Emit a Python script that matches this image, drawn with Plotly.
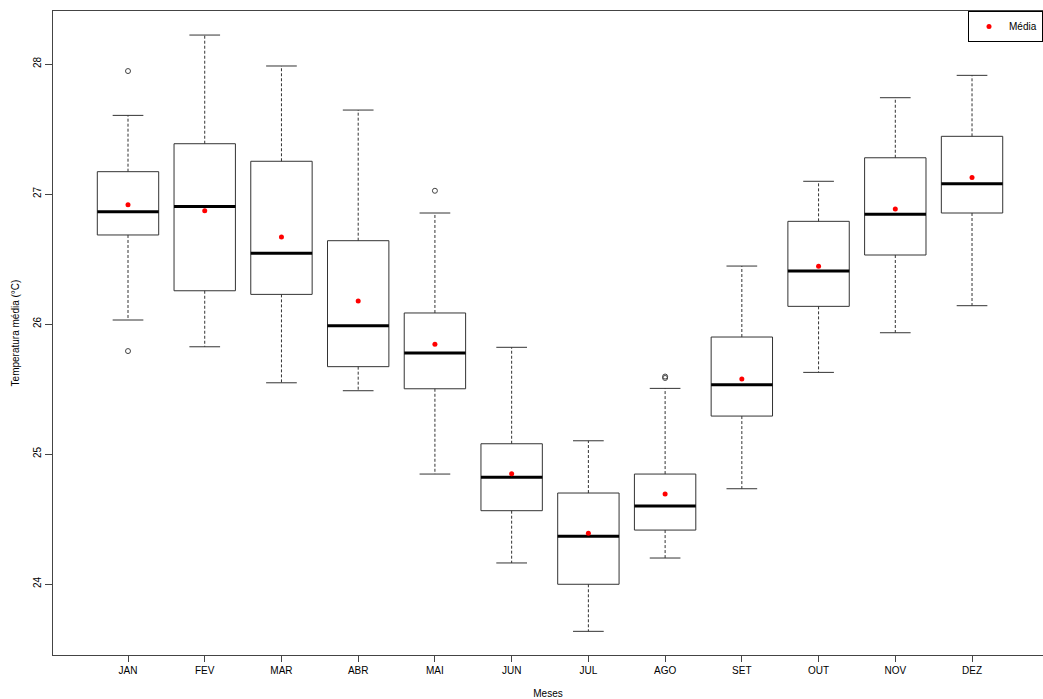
import plotly.graph_objects as go

months = ["JAN", "FEV", "MAR", "ABR", "MAI", "JUN", "JUL", "AGO", "SET", "OUT", "NOV", "DEZ"]
upper = [27.605, 28.223, 27.985, 27.646, 26.854, 25.821, 25.102, 25.505, 26.446, 27.098, 27.741, 27.913]
q3 = [27.172, 27.387, 27.252, 26.641, 26.085, 25.079, 24.700, 24.846, 25.900, 26.790, 27.279, 27.444]
median = [26.864, 26.905, 26.544, 25.987, 25.777, 24.821, 24.367, 24.600, 25.533, 26.408, 26.844, 27.079]
q1 = [26.685, 26.256, 26.228, 25.672, 25.502, 24.564, 23.998, 24.415, 25.292, 26.136, 26.531, 26.854]
lower = [26.031, 25.825, 25.548, 25.487, 24.846, 24.162, 23.636, 24.200, 24.733, 25.628, 25.933, 26.141]
means = [26.918, 26.872, 26.669, 26.177, 25.844, 24.848, 24.390, 24.692, 25.577, 26.444, 26.885, 27.128]
outlier_month = [1, 1, 5, 8, 8]
outlier_value = [27.946, 25.792, 27.025, 25.585, 25.596]
y_ticks = [24, 25, 26, 27, 28]

BOX_HALF = 0.4
CAP_HALF = 0.2
LINE = "#333333"

pos = list(range(1, len(months) + 1))

wx, wy = [], []
cx, cy = [], []
bx, by = [], []
mx, my = [], []
for i, p in enumerate(pos):
    wx += [p, p, None, p, p, None]
    wy += [q3[i], upper[i], None, q1[i], lower[i], None]
    cx += [p - CAP_HALF, p + CAP_HALF, None, p - CAP_HALF, p + CAP_HALF, None]
    cy += [upper[i], upper[i], None, lower[i], lower[i], None]
    bx += [p - BOX_HALF, p + BOX_HALF, p + BOX_HALF, p - BOX_HALF, p - BOX_HALF, None]
    by += [q1[i], q1[i], q3[i], q3[i], q1[i], None]
    mx += [p - BOX_HALF, p + BOX_HALF, None]
    my += [median[i], median[i], None]

fig = go.Figure()
fig.add_trace(go.Scatter(x=wx, y=wy, mode="lines", line=dict(color=LINE, width=1, dash="3px,2px"),
                         showlegend=False, hoverinfo="skip"))
fig.add_trace(go.Scatter(x=cx, y=cy, mode="lines", line=dict(color=LINE, width=1),
                         showlegend=False, hoverinfo="skip"))
fig.add_trace(go.Scatter(x=bx, y=by, mode="lines", line=dict(color=LINE, width=1),
                         showlegend=False, hoverinfo="skip"))
fig.add_trace(go.Scatter(x=mx, y=my, mode="lines", line=dict(color="black", width=3),
                         showlegend=False, hoverinfo="skip"))
fig.add_trace(go.Scatter(x=outlier_month, y=outlier_value, mode="markers",
                         marker=dict(symbol="circle-open", size=5, color="#444444", line=dict(width=1)),
                         showlegend=False))
fig.add_trace(go.Scatter(x=pos, y=means, mode="markers", name="Média",
                         marker=dict(symbol="circle", size=5, color="red")))

font = "Liberation Sans, Arial, Helvetica, sans-serif"
fig.update_layout(
    width=1043, height=699,
    margin=dict(l=53, r=0, t=11, b=44, autoexpand=False),
    paper_bgcolor="white", plot_bgcolor="white",
    font=dict(family=font, size=10, color="black"),
    xaxis=dict(range=[0.0225, 12.925], tickmode="array", tickvals=pos, ticktext=months,
               showgrid=False, zeroline=False, showline=True, mirror=True, linecolor="#444444",
               linewidth=1, ticks="outside", ticklen=6, tickcolor="#444444",
               title=dict(text="Meses", standoff=15, font=dict(size=10))),
    yaxis=dict(range=[23.454, 28.408], tickmode="array", tickvals=y_ticks,
               ticktext=[str(t) for t in y_ticks], tickangle=-90,
               showgrid=False, zeroline=False, showline=True, mirror=False, linecolor="#444444",
               linewidth=1, ticks="outside", ticklen=7, tickcolor="#444444",
               title=dict(text="Temperatura média (°C)", standoff=10, font=dict(size=10))),
    showlegend=True,
    legend=dict(x=1, xanchor="right", y=1, yanchor="top", bgcolor="white",
                bordercolor="black", borderwidth=1, font=dict(size=10),
                itemwidth=30, tracegroupgap=0),
)

fig.write_html(
    "out.html",
    config={"displayModeBar": False},
    post_script="document.body.style.margin='0';document.body.style.overflow='hidden';",
)
